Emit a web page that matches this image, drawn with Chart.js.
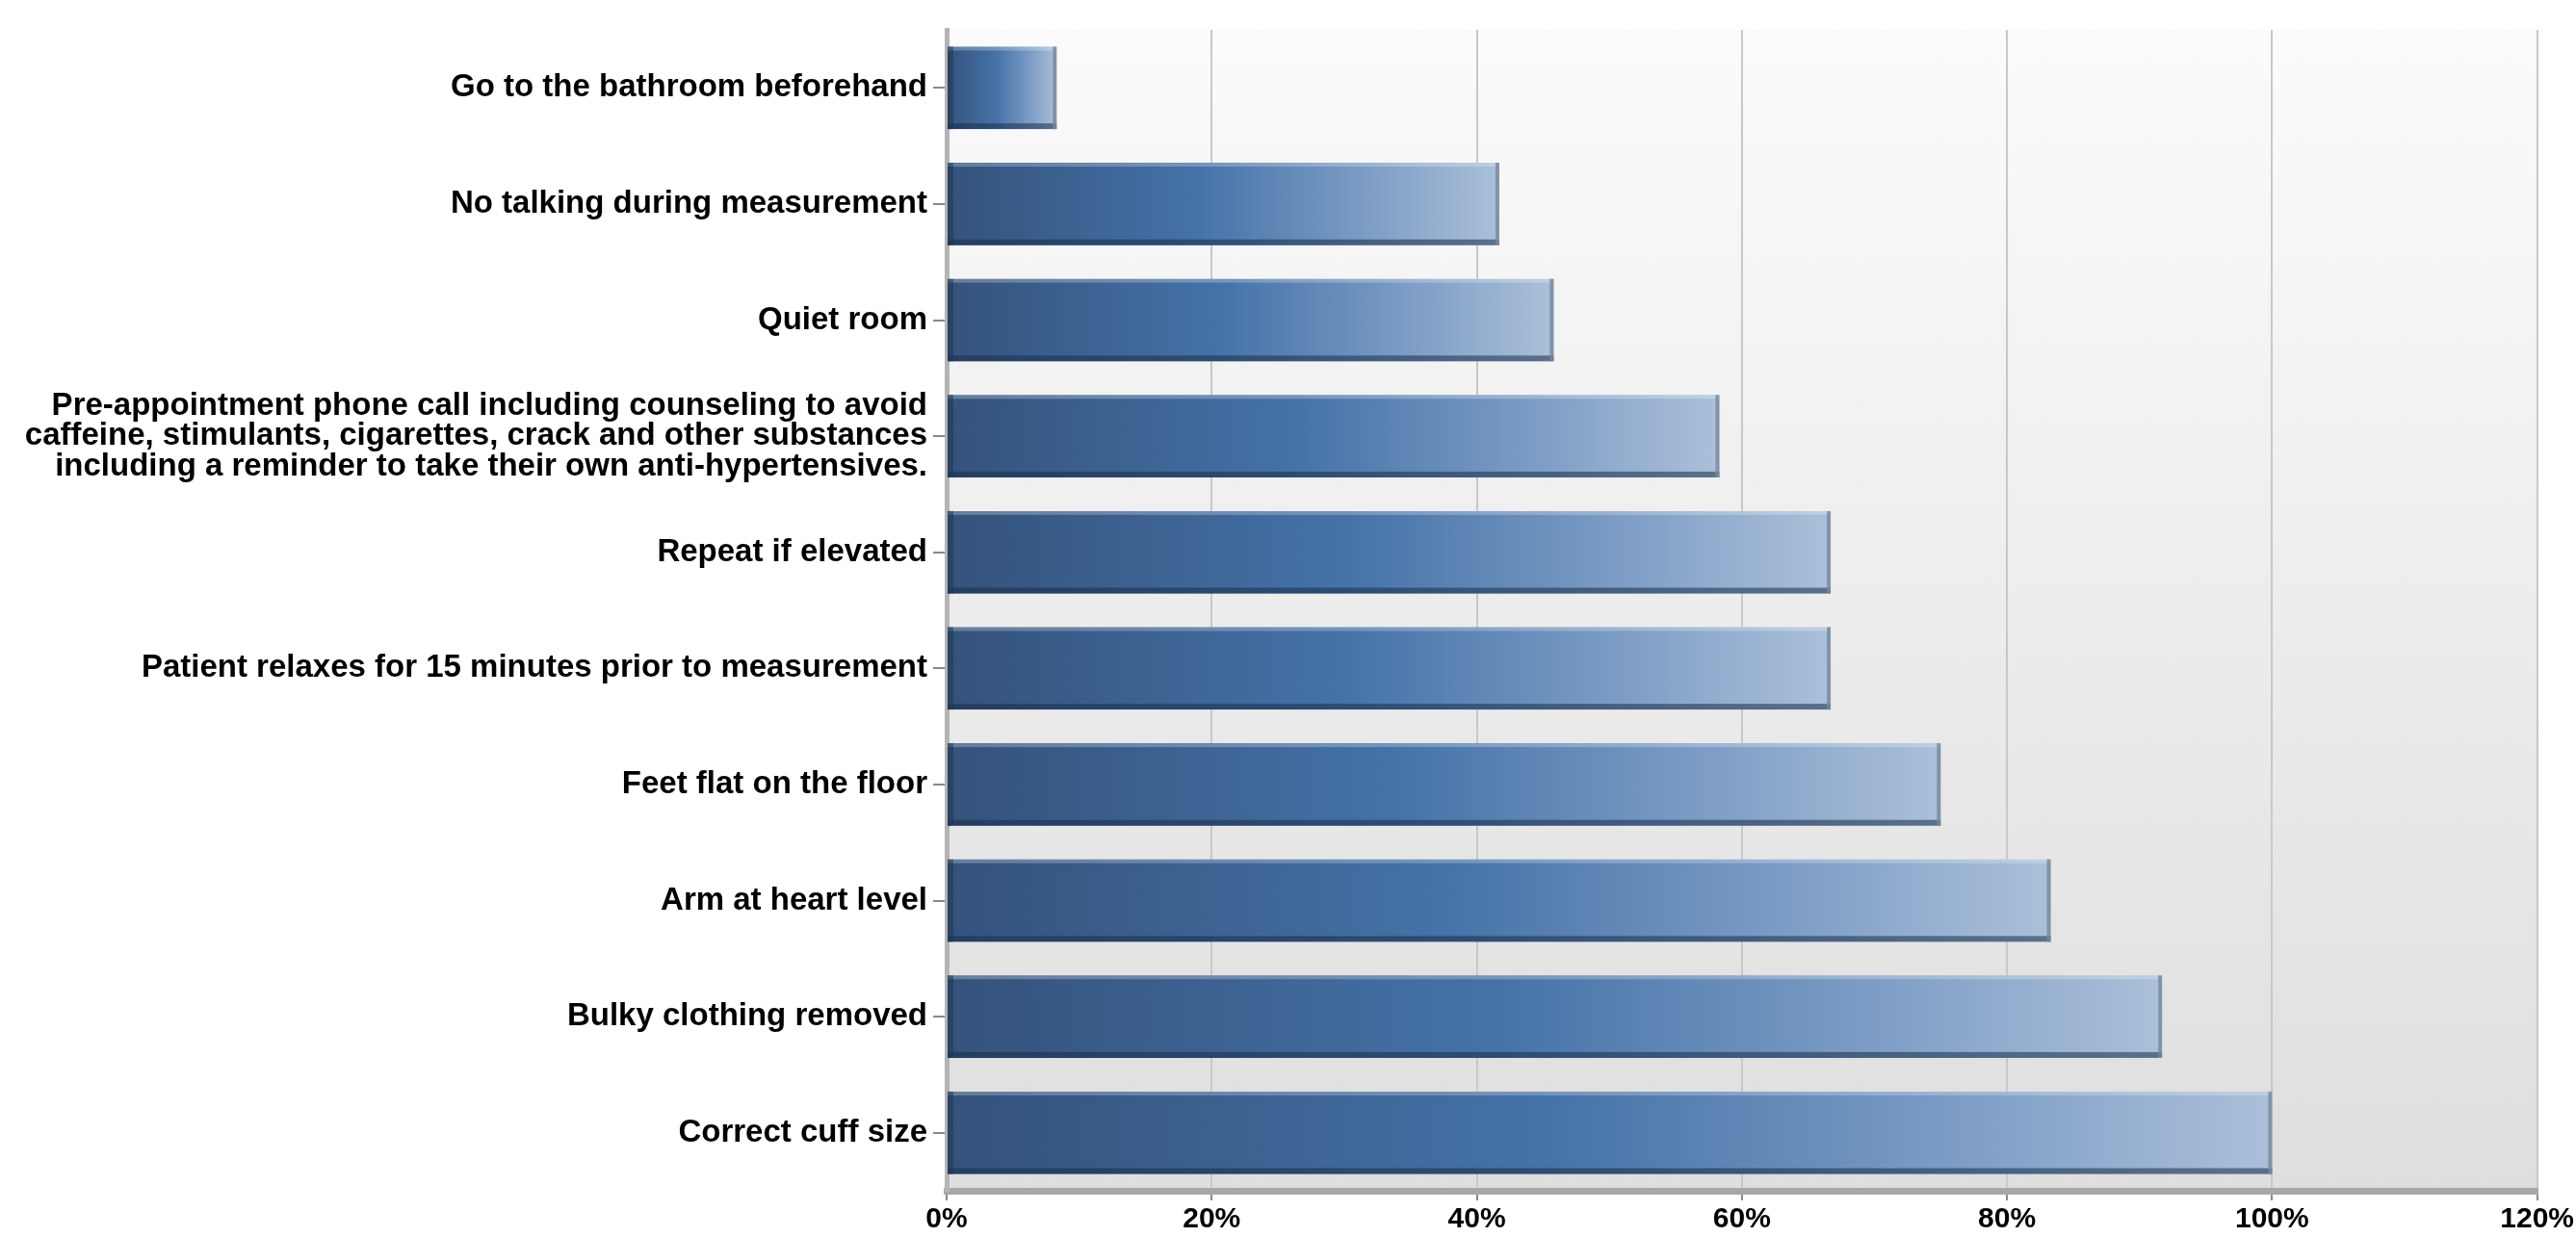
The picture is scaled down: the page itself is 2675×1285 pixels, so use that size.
<!DOCTYPE html>
<html>
<head>
<meta charset="utf-8">
<script src="https://cdn.jsdelivr.net/npm/chart.js@4.4.1/dist/chart.umd.min.js"></script>
<style>
  html, body { margin: 0; padding: 0; background: #fff; }
  #wrap { width: 2675px; height: 1285px; position: relative; }
</style>
</head>
<body>
<div id="wrap"><canvas id="chart"></canvas></div>
<script>
const categories = [
  "Go to the bathroom beforehand",
  "No talking during measurement",
  "Quiet room",
  ["Pre-appointment phone call including counseling to avoid",
   "caffeine, stimulants, cigarettes, crack and other substances",
   "including a reminder to take their own anti-hypertensives."],
  "Repeat if elevated",
  "Patient relaxes for 15 minutes prior to measurement",
  "Feet flat on the floor",
  "Arm at heart level",
  "Bulky clothing removed",
  "Correct cuff size"
];
const values = [8.3, 41.7, 45.8, 58.3, 66.7, 66.7, 75, 83.3, 91.7, 100];
const xTicks = [0, 20, 40, 60, 80, 100, 120];

// grey plot background, light at the top, darker at the bottom
const plotBg = {
  id: "plotBg",
  beforeDraw(chart) {
    const { ctx, chartArea: a } = chart;
    const g = ctx.createLinearGradient(0, a.top, 0, a.bottom);
    g.addColorStop(0, "#fbfbfb");
    g.addColorStop(1, "#dedede");
    ctx.save();
    ctx.fillStyle = g;
    ctx.fillRect(a.left, a.top, a.right - a.left, a.bottom - a.top);
    ctx.restore();
  }
};

// a bit of top highlight / bottom shadow on each bar
const barShade = {
  id: "barShade",
  afterDatasetsDraw(chart) {
    const { ctx } = chart;
    const meta = chart.getDatasetMeta(0);
    ctx.save();
    meta.data.forEach(bar => {
      const left = bar.base, right = bar.x;
      const top = bar.y - bar.height / 2, bottom = bar.y + bar.height / 2;
      const w = right - left;
      ctx.fillStyle = "rgba(255,255,255,0.25)";
      ctx.fillRect(left, top, w, 4);
      ctx.fillStyle = "rgba(25,45,75,0.55)";
      ctx.fillRect(left, bottom - 6, w, 6);
      ctx.fillStyle = "rgba(30,50,80,0.5)";
      ctx.fillRect(left, top, 6, bottom - top);
      ctx.fillStyle = "rgba(120,135,155,0.8)";
      ctx.fillRect(right - 4, top, 4, bottom - top);
    });
    ctx.restore();
  }
};

new Chart(document.getElementById("chart"), {
  type: "bar",
  data: {
    labels: categories,
    datasets: [{
      data: values,
      backgroundColor: (c) => {
        const chart = c.chart;
        if (!chart.chartArea || c.raw === undefined) return "#4470a5";
        const x0 = chart.scales.x.getPixelForValue(0);
        const x1 = chart.scales.x.getPixelForValue(c.raw);
        const g = chart.ctx.createLinearGradient(x0, 0, x1, 0);
        g.addColorStop(0, "#34527c");
        g.addColorStop(0.45, "#4572a7");
        g.addColorStop(0.75, "#7a9bc4");
        g.addColorStop(1, "#abc0d9");
        return g;
      },
      borderWidth: 0,
      categoryPercentage: 1,
      barPercentage: 0.71
    }]
  },
  options: {
    indexAxis: "y",
    responsive: true,
    maintainAspectRatio: false,
    animation: false,
    layout: { padding: { top: 31, right: 36, left: 0, bottom: 0 } },
    plugins: {
      legend: { display: false },
      tooltip: { enabled: false }
    },
    scales: {
      x: {
        min: 0,
        max: 120,
        afterBuildTicks: (s) => { s.ticks = xTicks.map(v => ({ value: v })); },
        afterFit: (s) => { s.height = 48; },
        grid: { color: "#c8c8c8", lineWidth: 2, tickLength: 10, tickColor: "#8a8a8a" },
        border: { color: "#a8a8a8", width: 7 },
        ticks: {
          callback: (v) => v + "%",
          color: "#000",
          padding: 2,
          maxRotation: 0,
          font: { family: "Liberation Sans", size: 30, weight: "bold" }
        }
      },
      y: {
        afterFit: (s) => { s.width = 983; },
        grid: { drawOnChartArea: false, offset: false, tickLength: 14, tickColor: "#8a8a8a", lineWidth: 2 },
        border: { color: "#b4b4b4", width: 5 },
        ticks: {
          color: "#000",
          padding: 6,
          font: { family: "Liberation Sans", size: 33, weight: "bold", lineHeight: 0.96 }
        }
      }
    }
  },
  plugins: [plotBg, barShade]
});
</script>
</body>
</html>
